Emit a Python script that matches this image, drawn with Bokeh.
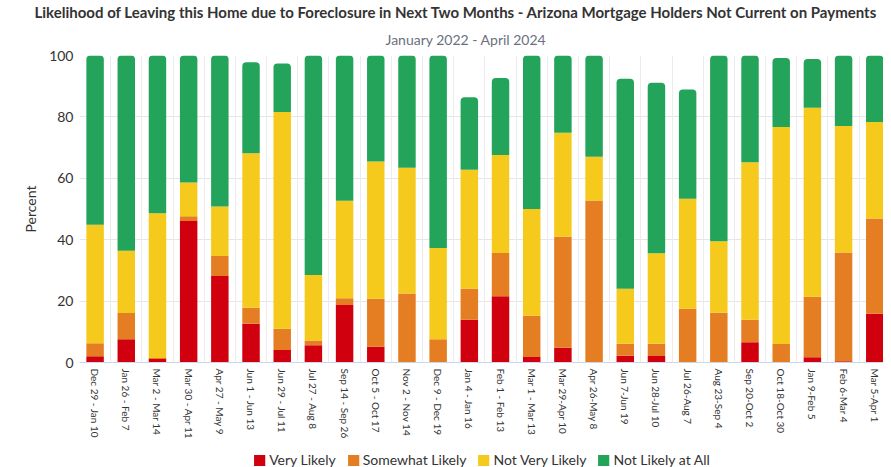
import math
from bokeh.plotting import figure
from bokeh.layouts import column
from bokeh.models import (ColumnDataSource, FixedTicker, Grid, Legend, LegendItem,
                          Title, Range1d)
from bokeh.embed import file_html
from bokeh.resources import INLINE

periods = ["Dec 29 - Jan 10", "Jan 26 - Feb 7", "Mar 2 - Mar 14", "Mar 30 - Apr 11",
           "Apr 27 - May 9", "Jun 1 - Jun 13", "Jun 29 - Jul 11", "Jul 27 - Aug 8",
           "Sep 14 - Sep 26", "Oct 5 - Oct 17", "Nov 2 - Nov 14", "Dec 9 - Dec 19",
           "Jan 4 - Jan 16", "Feb 1 - Feb 13", "Mar 1 - Mar 13", "Mar 29-Apr 10",
           "Apr 26-May 8", "Jun 7-Jun 19", "Jun 28-Jul 10", "Jul 26-Aug 7",
           "Aug 23-Sep 4", "Sep 20-Oct 2", "Oct 18-Oct 30", "Jan 9-Feb 5",
           "Feb 6-Mar 4", "Mar 5-Apr 1"]

very_likely = [2.0, 7.6, 1.1, 46.1, 28.2, 12.6, 4.1, 5.6, 18.7, 5.1, 0.0, 0.0,
               13.9, 21.6, 1.8, 4.8, 0.0, 2.2, 2.1, 0.0, 0.0, 6.6, 0.0, 1.7, 0.4, 15.9]
somewhat_likely = [4.3, 8.5, 0.4, 1.5, 6.5, 5.2, 6.9, 1.6, 2.2, 15.7, 22.5, 7.6,
                   10.1, 14.1, 13.4, 36.2, 52.8, 3.9, 4.0, 17.5, 16.2, 7.3, 6.0, 19.7, 35.4, 31.0]
not_very_likely = [38.6, 20.3, 47.1, 11.0, 16.1, 50.4, 70.6, 21.3, 31.8, 44.7, 40.9, 29.7,
                   38.8, 31.9, 34.8, 33.8, 14.2, 17.9, 29.5, 35.8, 23.3, 51.3, 70.7, 61.6, 41.2, 31.4]
not_likely_at_all = [55.1, 63.6, 51.4, 41.4, 49.2, 29.6, 15.8, 71.5, 47.3, 34.5, 36.6, 62.7,
                     23.6, 25.1, 50.0, 25.2, 33.0, 68.4, 55.5, 35.6, 60.5, 34.8, 22.5, 15.9, 23.0, 21.7]

series_names = ["Very Likely", "Somewhat Likely", "Not Very Likely", "Not Likely at All"]
series_colors = ["#D0000F", "#E57E22", "#F6CA1C", "#24A45A"]
y_ticks = [0, 20, 40, 60, 80, 100]

title_text = ("Likelihood of Leaving this Home due to Foreclosure in Next Two Months - "
              "Arizona Mortgage Holders Not Current on Payments")
subtitle_text = "January 2022 - April 2024"

n = len(periods)
xs = list(range(n))
series = [very_likely, somewhat_likely, not_very_likely, not_likely_at_all]

FONT = "Lato"

p = figure(width=883, height=442, output_backend="svg", toolbar_location=None,
           x_range=Range1d(-0.5, 25.28), y_range=Range1d(0, 100),
           min_border_left=55, min_border_right=0, min_border_top=48,
           min_border_bottom=0)
p.outline_line_color = None

renderers = []
sources = []
bottoms = [0.0] * n
for i, (vals, name, color) in enumerate(zip(series, series_names, series_colors)):
    tops = [b + v for b, v in zip(bottoms, vals)]
    src = ColumnDataSource(dict(x=xs, bottom=bottoms, top=tops))
    sources.append(src)
    kw = {}
    if i == len(series) - 1:
        kw["border_radius"] = (4, 4, 0, 0)
    r = p.vbar(x="x", bottom="bottom", top="top", width=0.56, source=src,
               fill_color=color, line_color=None, **kw)
    renderers.append(r)
    bottoms = tops

# axes
p.yaxis.ticker = FixedTicker(ticks=y_ticks)
p.yaxis.axis_line_color = None
p.yaxis.major_tick_line_color = None
p.yaxis.minor_tick_line_color = None
p.yaxis.major_tick_out = 0
p.yaxis.major_tick_in = 0
p.yaxis.minor_tick_out = 0
p.yaxis.major_label_text_font = FONT
p.yaxis.major_label_text_font_size = "14px"
p.yaxis.major_label_text_color = "#333333"
p.yaxis.major_label_standoff = 6
p.yaxis.axis_label = "Percent"
p.yaxis.axis_label_text_font = FONT
p.yaxis.axis_label_text_font_size = "14px"
p.yaxis.axis_label_text_font_style = "normal"
p.yaxis.axis_label_text_color = "#333333"
p.yaxis.axis_label_standoff = 7

p.xaxis.ticker = FixedTicker(ticks=xs)
p.xaxis.major_label_overrides = {i: lab for i, lab in enumerate(periods)}
p.xaxis.major_label_orientation = -math.pi / 2
p.xaxis.major_label_text_font = FONT
p.xaxis.major_label_text_font_size = "10px"
p.xaxis.major_label_text_color = "#333333"
p.xaxis.major_label_standoff = 6
p.xaxis.major_tick_line_color = None
p.xaxis.minor_tick_line_color = None
p.xaxis.major_tick_out = 0
p.xaxis.major_tick_in = 0
p.xaxis.minor_tick_out = 0
p.xaxis.axis_line_color = "#ccd6eb"

p.xgrid.visible = False
p.ygrid.grid_line_color = "#e6e6e6"
p.ygrid.ticker = FixedTicker(ticks=y_ticks)
vgrid = Grid(dimension=0, ticker=FixedTicker(ticks=[i - 0.5 for i in range(n + 1)]),
             grid_line_color="#ececec")
p.add_layout(vgrid)

sub = Title(text=subtitle_text, align="left", text_font=FONT, text_font_size="14px",
            text_font_style="normal", text_color="#6b6f80", offset=306, standoff=16)
ttl = Title(text=title_text, align="left", text_font=FONT, text_font_size="15px",
            text_font_style="bold", text_color="#333333", offset=-45, standoff=0)
p.add_layout(sub, "above")
p.add_layout(ttl, "above")

# legend strip (separate small figure so the legend sits under the rotated labels);
# its renderers share the chart's data but its ranges keep the bars out of view
lf = figure(width=883, height=26, output_backend="svg", toolbar_location=None,
            x_axis_type=None, y_axis_type=None,
            x_range=Range1d(1000, 1001), y_range=Range1d(1000, 1001),
            min_border_left=79, min_border_right=0, min_border_top=0, min_border_bottom=0)
lf.outline_line_color = None
lf.xgrid.visible = False
lf.ygrid.visible = False
leg_renderers = []
for src, color in zip(sources, series_colors):
    r = lf.vbar(x="x", bottom="bottom", top="top", width=0.56, source=src,
                fill_color=color, line_color=None, border_radius=2)
    leg_renderers.append(r)

legend = Legend(items=[LegendItem(label=nm, renderers=[r]) for nm, r in zip(series_names, leg_renderers)],
                orientation="horizontal", location="bottom_center",
                label_text_font=FONT, label_text_font_size="14px", label_text_color="#333333",
                glyph_width=14, glyph_height=14, spacing=10, padding=0, margin=0,
                label_standoff=3, border_line_color=None, background_fill_alpha=0)
lf.add_layout(legend)

layout = column(p, lf, spacing=0)

open("out.html", "w").write(file_html(layout, INLINE))
